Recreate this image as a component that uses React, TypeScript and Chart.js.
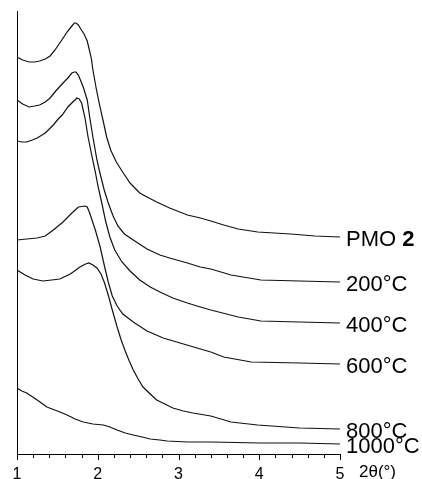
import React, { useEffect, useRef } from "react";
import { Chart, registerables } from "chart.js";

Chart.register(...registerables);

// 2θ (degrees) and intensity (a.u., curves stacked with offsets)
const pmoX = [1.0, 1.07, 1.15, 1.22, 1.28, 1.35, 1.41, 1.47, 1.53, 1.58, 1.62, 1.66, 1.68, 1.71, 1.73, 1.76, 1.79, 1.83, 1.87, 1.89, 1.92, 1.94, 1.98, 2.02, 2.07, 2.11, 2.16, 2.23, 2.3, 2.4, 2.52, 2.61, 2.73, 2.89, 3.11, 3.27, 3.4, 3.56, 3.74, 3.98, 4.39, 4.69, 5.0];
const pmoY = [397, 394, 392, 392, 393, 395, 398, 404, 411, 417, 422, 426, 428, 431, 431, 429, 425, 420, 413, 406, 396, 384, 366, 350, 332, 317, 304, 292, 283, 271, 261, 257, 252, 246, 239, 236, 233, 229, 225, 222, 220, 218, 217];

const t200X = [1.0, 1.07, 1.15, 1.22, 1.28, 1.35, 1.41, 1.48, 1.57, 1.63, 1.68, 1.71, 1.73, 1.76, 1.82, 1.87, 1.9, 1.94, 1.99, 2.03, 2.08, 2.13, 2.19, 2.25, 2.33, 2.44, 2.61, 2.77, 2.89, 3.11, 3.27, 3.4, 3.65, 4.02, 4.5, 5.0];
const t200Y = [354, 350, 347, 348, 349, 352, 356, 363, 371, 376, 381, 382, 382, 379, 367, 354, 337, 317, 294, 280, 264, 251, 238, 228, 220, 214, 205, 199, 196, 191, 187, 185, 179, 174, 173, 172];

const t400X = [1.0, 1.06, 1.12, 1.19, 1.25, 1.35, 1.45, 1.51, 1.56, 1.63, 1.69, 1.72, 1.74, 1.77, 1.8, 1.84, 1.88, 1.93, 1.97, 2.0, 2.05, 2.1, 2.15, 2.21, 2.3, 2.4, 2.52, 2.65, 2.77, 2.93, 3.11, 3.27, 3.4, 3.74, 4.02, 4.5, 5.0];
const t400Y = [313, 312, 312, 314, 316, 321, 329, 335, 339, 347, 352, 354, 356, 355, 351, 337, 317, 297, 282, 269, 251, 232, 217, 204, 192, 183, 174, 167, 162, 156, 151, 147, 144, 137, 133, 132, 131];

const t600X = [1.0, 1.12, 1.25, 1.35, 1.45, 1.57, 1.68, 1.76, 1.84, 1.87, 1.9, 1.97, 2.03, 2.08, 2.13, 2.18, 2.24, 2.31, 2.44, 2.61, 2.81, 3.02, 3.23, 3.4, 3.56, 3.9, 4.5, 5.0];
const t600Y = [214, 215, 216, 218, 224, 232, 241, 247, 248, 247, 241, 224, 207, 189, 172, 158, 148, 140, 132, 123, 116, 111, 106, 102, 97, 92, 91, 90];

const t800X = [1.0, 1.1, 1.2, 1.32, 1.43, 1.53, 1.66, 1.78, 1.85, 1.89, 1.94, 1.99, 2.04, 2.08, 2.13, 2.18, 2.24, 2.29, 2.34, 2.39, 2.44, 2.5, 2.56, 2.65, 2.73, 2.83, 2.93, 3.06, 3.18, 3.4, 3.65, 3.98, 4.5, 5.0];
const t800Y = [184, 179, 175, 173, 174, 175, 180, 187, 190, 191, 189, 186, 180, 172, 159, 144, 127, 114, 103, 93, 84, 75, 67, 60, 54, 50, 46, 43, 41, 38, 32, 29, 26, 25];

const t1000X = [1.0, 1.06, 1.12, 1.25, 1.37, 1.5, 1.62, 1.72, 1.82, 1.94, 2.07, 2.15, 2.24, 2.34, 2.44, 2.55, 2.65, 2.77, 2.86, 3.11, 3.4, 4.01, 4.5, 5.0];
const t1000Y = [66, 63, 61, 54, 47, 43, 39, 35, 32, 30, 29, 27, 24, 21, 19, 17, 15, 14, 13, 12, 12, 11, 11, 10];

const seriesLabels = ["PMO 2", "200°C", "400°C", "600°C", "800°C", "1000°C"];
const seriesX = [pmoX, t200X, t400X, t600X, t800X, t1000X];
const seriesY = [pmoY, t200Y, t400Y, t600Y, t800Y, t1000Y];

const xMin = 1;
const xMax = 5;
const xMinorStep = 0.2;
const xAxisTitle = "2θ(°)";

const FONT = '"Liberation Sans", Arial, sans-serif';

const overlayPlugin = {
  id: "overlay",
  afterDraw(chart: any) {
    const ctx = chart.ctx;
    const xs = chart.scales.x;
    const area = chart.chartArea;
    ctx.save();
    // tick marks (outward, below axis)
    ctx.strokeStyle = "#000";
    ctx.lineWidth = 1;
    const n = Math.round((xMax - xMin) / xMinorStep);
    for (let i = 0; i <= n; i++) {
      const v = xMin + i * xMinorStep;
      const major = i % 5 === 0;
      const px = Math.round(xs.getPixelForValue(v)) + 0.5;
      ctx.beginPath();
      ctx.moveTo(px, area.bottom);
      ctx.lineTo(px, area.bottom + (major ? 6 : 4));
      ctx.stroke();
    }
    // axis title
    ctx.fillStyle = "#000";
    ctx.font = `17px ${FONT}`;
    ctx.textAlign = "left";
    ctx.textBaseline = "alphabetic";
    ctx.fillText(xAxisTitle, xs.getPixelForValue(xMax) + 19, area.bottom + 23);
    // series labels at line ends
    chart.data.datasets.forEach((ds: any, i: number) => {
      const meta = chart.getDatasetMeta(i);
      const last = meta.data[meta.data.length - 1];
      if (!last) return;
      const x = last.x + 6;
      const y = last.y + 9;
      const label = ds.label as string;
      if (label.startsWith("PMO ")) {
        ctx.font = `22px ${FONT}`;
        const a = "PMO ";
        ctx.fillText(a, x, y);
        const w = ctx.measureText(a).width;
        ctx.font = `bold 22px ${FONT}`;
        ctx.fillText(label.slice(4), x + w, y);
      } else {
        ctx.font = `22px ${FONT}`;
        ctx.fillText(label, x, y);
      }
    });
    ctx.restore();
  },
};

export default function App() {
  const ref = useRef<HTMLCanvasElement>(null);
  useEffect(() => {
    if (!ref.current) return;
    const datasets = seriesLabels.map((label, i) => ({
      label,
      data: seriesX[i].map((x, j) => ({ x, y: seriesY[i][j] })),
      borderColor: "#111",
      borderWidth: 1.2,
      pointRadius: 0,
      tension: 0,
      fill: false,
    }));
    const chart = new Chart(ref.current, {
      type: "line",
      data: { datasets },
      options: {
        animation: false,
        responsive: false,
        devicePixelRatio: 1,
        layout: { padding: { top: 11, right: 82, left: 0, bottom: 0 } },
        plugins: { legend: { display: false }, tooltip: { enabled: false } },
        scales: {
          x: {
            type: "linear",
            min: xMin,
            max: xMax,
            grid: { display: false },
            border: { display: true, color: "#000", width: 1 },
            ticks: {
              stepSize: 1,
              autoSkip: false,
              maxRotation: 0,
              padding: 3,
              color: "#000",
              font: { size: 16, family: FONT },
            },
            afterFit: (s: any) => {
              s.height = 25;
            },
          },
          y: {
            type: "linear",
            min: 0,
            max: 443,
            grid: { display: false },
            border: { display: true, color: "#000", width: 1 },
            ticks: { display: false },
            afterFit: (s: any) => {
              s.width = 17;
            },
          },
        },
      },
      plugins: [overlayPlugin],
    } as any);
    return () => chart.destroy();
  }, []);
  return (
    <div style={{ position: "fixed", left: 0, top: 0, width: 422, height: 479, background: "#fff" }}>
      <canvas ref={ref} width={422} height={479} style={{ width: 422, height: 479, display: "block" }} />
    </div>
  );
}
